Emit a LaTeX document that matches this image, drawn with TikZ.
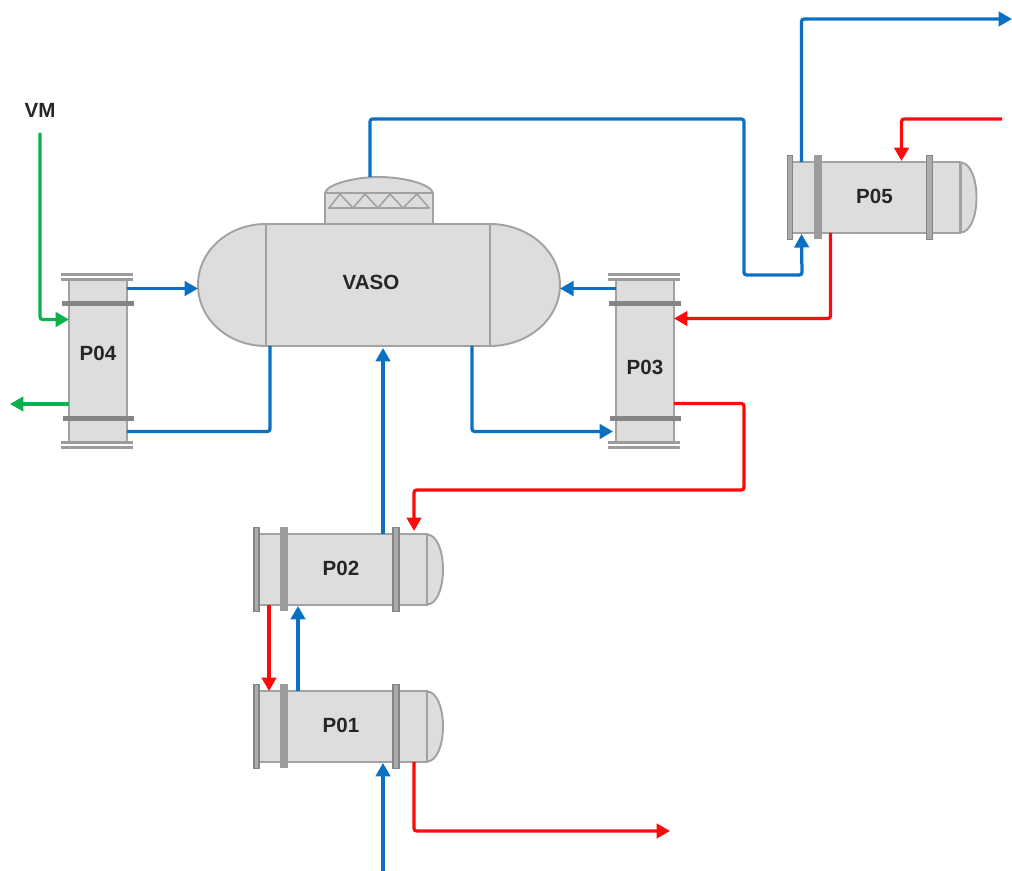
\documentclass[tikz,border=0pt]{standalone}
\usepackage{fontspec}
\usepackage{xcolor}
\usetikzlibrary{arrows.meta,calc}
\setmainfont{Liberation Sans}
\definecolor{vesselfill}{HTML}{DDDDDD}
\definecolor{vesseledge}{HTML}{A2A2A2}
\definecolor{flangefill}{HTML}{9C9C9C}
\definecolor{flangedark}{HTML}{858585}
\definecolor{pipeblue}{HTML}{0A70C4}
\definecolor{pipered}{HTML}{FF0A0A}
\definecolor{pipegreen}{HTML}{0CB14F}
\begin{document}
\begin{tikzpicture}[
  x=0.02cm, y=-0.02cm,
  shell/.style={draw=vesseledge, fill=vesselfill, line width=1.1pt},
  flange/.style={draw=none, fill=flangefill},
  flangepair/.style={draw=flangedark, fill=flangefill!85, line width=1pt},
  flangebar/.style={draw=none, fill=flangedark},
  tag/.style={font=\bfseries\fontsize{11.7pt}{13pt}\selectfont, text=black!85, inner sep=0pt, outer sep=0pt},
  pipeline/.style={line width=1.85pt, rounded corners=1.5pt},
  pipe/.style={pipeline, -{Triangle[length=0.27cm,width=0.29cm]}},
  bluepipe/.style={pipe, draw=pipeblue},
  redpipe/.style={pipe, draw=pipered},
  greenpipe/.style={pipe, draw=pipegreen},
]
\useasboundingbox (0,0) rectangle (1012,871);
% vessel, ends first so the body sits over them
\draw[shell] (266,224) .. controls (228,224) and (198,251) .. (198,285)
  .. controls (198,319) and (228,346) .. (266,346) -- cycle;
\draw[shell] (490,224) .. controls (528,224) and (560,251) .. (560,285)
  .. controls (560,319) and (528,346) .. (490,346) -- cycle;
\draw[shell] (325,224) -- (325,193) .. controls (327,184) and (355,177) .. (379,177)
  .. controls (403,177) and (431,184) .. (433,193) -- (433,224) -- cycle;
\draw[vesseledge, line width=1.1pt] (325,193) -- (433,193);
\draw[vesseledge, line width=1.1pt] (328,208) -- (430,208);
\draw[vesseledge, line width=0.9pt] (329,208) -- (340,194) -- (353,208) -- (365,194) -- (378,208)
  -- (390,194) -- (403,208) -- (417,194) -- (429,208);
\node[shell, minimum width=4.48cm, minimum height=2.44cm, outer sep=0pt] (vaso) at (378,285) {};
\node[tag] (vasotag) at (371,282) {VASO};

% horizontal exchangers: cap, body, flanges
\foreach \name/\labl/\xx/\yy in {
  p01/P01/342/726.5,
  p02/P02/342/569.5,
  p05/P05/875.5/197.5
} {
  \begin{scope}[shift={(\xx,\yy)}]
    \draw[shell] (85,-35) .. controls (95,-35) and (101,-18) .. (101,0)
      .. controls (101,18) and (95,35) .. (85,35) -- cycle;
    \node[shell, minimum width=3.4cm, minimum height=1.42cm, outer sep=0pt] (\name) at (0,0) {};
    \draw[vesseledge, line width=1.6pt] (85,-35) -- (85,35);
    \node[tag] (\name tag) at (-1,-1) {\labl};
    \draw[flangepair] (-88,-42) rectangle (-83,42);
    \draw[flange] (-62,-42) rectangle (-54,42);
    \draw[flangepair] (51,-42) rectangle (57,42);
  \end{scope}
}
% vertical exchangers, label height differs
\foreach \name/\labl/\xx/\dy in {
  p04/P04/98/-8,
  p03/P03/645/5.5
} {
  \begin{scope}[shift={(\xx,361.5)}]
    \node[shell, minimum width=1.16cm, minimum height=3.26cm, outer sep=0pt] (\name) at (0,0) {};
    \node[tag] (\name tag) at (0,\dy) {\labl};
    \draw[flange] (-37,-88) rectangle (35,-85);
    \draw[flange] (-37,-83) rectangle (35,-80);
    \draw[flangebar] (-36,-60) rectangle (36,-55);
    \draw[flangebar] (-35,55) rectangle (36,60);
    \draw[flange] (-37,80) rectangle (35,83);
    \draw[flange] (-37,85) rectangle (35,88);
  \end{scope}
}
\node[tag] (vm) at (40,110) {VM};

% free ends
\coordinate (vmout) at (10,404);
\coordinate (gasout) at (1012,19);
\coordinate (coldin) at (1002,119);
\coordinate (feedin) at (383,871);
\coordinate (hotout) at (670,831);
\coordinate (greenin) at (40,133);
\coordinate (p02top) at ($(p02.north west)+(126,0)$);
\coordinate (p02hot) at ($(p02.north west)+(157,-3)$);
\coordinate (p01hot) at ($(p01.south west)+(157,0)$);
\coordinate (p02red) at ($(p02.south west)+(12,0)$);
\coordinate (p01blue) at ($(p01.north west)+(41,0)$);
\coordinate (p05cold) at ($(p05.south west)+(11,0)$);
\coordinate (p05warm) at ($(p05.south west)+(40,0)$);
\coordinate (p03hot) at ($(p03.north east)+(0,123.5)$);
\coordinate (p03in) at ($(p03.north west)+(0,8.5)$);
\coordinate (p04out) at ($(p04.north east)+(0,8.5)$);
\coordinate (domeout) at (370,177);

\draw[greenpipe] (greenin) |- ($(p04.north west)+(0,39.5)$);
\draw[greenpipe] (p04.west |- vmout) -- (vmout);
\draw[bluepipe] (p04out) -- (p04out -| 198,0);
\draw[pipeline, draw=pipeblue] ($(vaso.south west)+(4,0)$) |- ($(p04.south east)+(0,-11.5)$);
\draw[bluepipe] ($(vaso.south east)+(-18,0)$) |- ($(p03.south west)+(-3,-11.5)$);
\draw[bluepipe] (p03in) -- (p03in -| 560,0);
\draw[redpipe] (p05warm) |- ($(p03.north east)+(0,38.5)$);
\draw[redpipe] (p03hot) -| (744,490) -| (p02hot);
\draw[bluepipe] (p02top) -- ($(p02top |- vaso.south)+(0,2)$);
\draw[redpipe] (p02red) -- (p02red |- p01.north);
\draw[bluepipe] (p01blue) -- ($(p01blue |- p02.south)+(0,1)$);
\draw[bluepipe] (feedin) -- ($(feedin |- p01.south)+(0,1)$);
\draw[redpipe] (p01hot) |- (hotout);
\draw[bluepipe] (domeout) |- (744,119) |- (802,275) -- ($(p05cold)+(0,1)$);
\draw[bluepipe] (p05cold |- p05.north) |- (gasout);
\draw[redpipe] (coldin) -| ($(p05.north west)+(111,-1)$);
\end{tikzpicture}
\end{document}
